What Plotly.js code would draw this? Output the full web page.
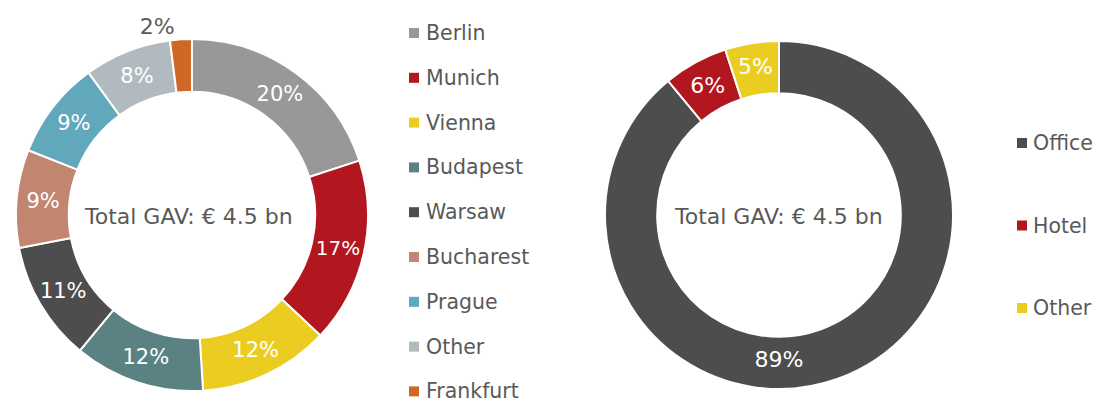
<!DOCTYPE html>
<html>
<head>
<meta charset="utf-8">
<script src="https://cdn.plot.ly/plotly-3.0.1.min.js"></script>
<style>html,body{margin:0;padding:0;background:#fff;}#chart{width:1105px;height:402px;}</style>
</head>
<body>
<div id="chart"></div>
<script>
// Data
const cityLabels = ["Berlin", "Munich", "Vienna", "Budapest", "Warsaw", "Bucharest", "Prague", "Other", "Frankfurt"];
const cityValues = [20, 17, 12, 12, 11, 9, 9, 8, 2];
const cityColors = ["#989898", "#B2161F", "#EBCD22", "#5B8283", "#4D4D4D", "#C2856F", "#62A8BC", "#B1BBBF", "#D06726"];
const typeLabels = ["Office", "Hotel", "Other"];
const typeValues = [89, 6, 5];
const typeColors = ["#4D4D4D", "#B2161F", "#EBCD22"];
const centerText = "Total GAV: € 4.5 bn";

const W = 1105, H = 402;
const px = x => x / W;
const py = y => (H - y) / H;
const FONT = "DejaVu Sans";
const TXT = "#595959";

const leftPositions = cityLabels.map(l => l === "Frankfurt" ? "outside" : "inside");
const leftSizes = cityLabels.map(l => l === "Munich" ? 20 : 21);

const traces = [
  {
    type: "pie", labels: cityLabels, values: cityValues, sort: false,
    direction: "clockwise", rotation: 0, hole: 0.7,
    marker: {colors: cityColors, line: {color: "#ffffff", width: 2}},
    textinfo: "percent", textposition: leftPositions,
    insidetextorientation: "horizontal",
    textfont: {family: FONT, size: leftSizes},
    insidetextfont: {family: FONT, size: leftSizes, color: "#ffffff"},
    outsidetextfont: {family: FONT, size: 22, color: TXT},
    domain: {x: [px(16), px(368)], y: [py(391), py(39)]},
    showlegend: false, hoverinfo: "label+percent"
  },
  {
    type: "pie", labels: typeLabels, values: typeValues, sort: false,
    direction: "clockwise", rotation: 0, hole: 0.7,
    marker: {colors: typeColors, line: {color: "#ffffff", width: 2}},
    textinfo: "percent", textposition: "inside",
    insidetextorientation: "horizontal",
    textfont: {family: FONT, size: 22},
    insidetextfont: {family: FONT, size: 22, color: "#ffffff"},
    domain: {x: [px(605), px(953)], y: [py(389), py(41)]},
    showlegend: false, hoverinfo: "label+percent"
  }
];

const annotations = [
  {x: px(188), y: py(216), xref: "paper", yref: "paper", text: centerText, showarrow: false,
   font: {family: FONT, size: 22, color: TXT}, xanchor: "center", yanchor: "middle"},
  {x: px(778), y: py(216), xref: "paper", yref: "paper", text: centerText, showarrow: false,
   font: {family: FONT, size: 22, color: TXT}, xanchor: "center", yanchor: "middle"}
];
const shapes = [];

// Left legend
cityLabels.forEach((lab, i) => {
  const cy = 33 + i * 44.8;
  shapes.push({type: "rect", xref: "paper", yref: "paper",
    x0: px(409), x1: px(419), y0: py(cy + 5), y1: py(cy - 5),
    fillcolor: cityColors[i], line: {width: 0}});
  annotations.push({x: px(424), y: py(cy), xref: "paper", yref: "paper", text: lab, showarrow: false,
    font: {family: FONT, size: 20.5, color: TXT}, xanchor: "left", yanchor: "middle"});
});
// Right legend
typeLabels.forEach((lab, i) => {
  const cy = 143 + i * 82.5;
  shapes.push({type: "rect", xref: "paper", yref: "paper",
    x0: px(1017), x1: px(1027), y0: py(cy + 5), y1: py(cy - 5),
    fillcolor: typeColors[i], line: {width: 0}});
  annotations.push({x: px(1031), y: py(cy), xref: "paper", yref: "paper", text: lab, showarrow: false,
    font: {family: FONT, size: 20.5, color: TXT}, xanchor: "left", yanchor: "middle"});
});

const layout = {
  width: W, height: H, margin: {l: 0, r: 0, t: 0, b: 0},
  paper_bgcolor: "#ffffff", plot_bgcolor: "#ffffff",
  showlegend: false, annotations: annotations, shapes: shapes,
  font: {family: FONT, color: TXT}
};

Plotly.newPlot("chart", traces, layout, {staticPlot: true, displayModeBar: false});
</script>
</body>
</html>
